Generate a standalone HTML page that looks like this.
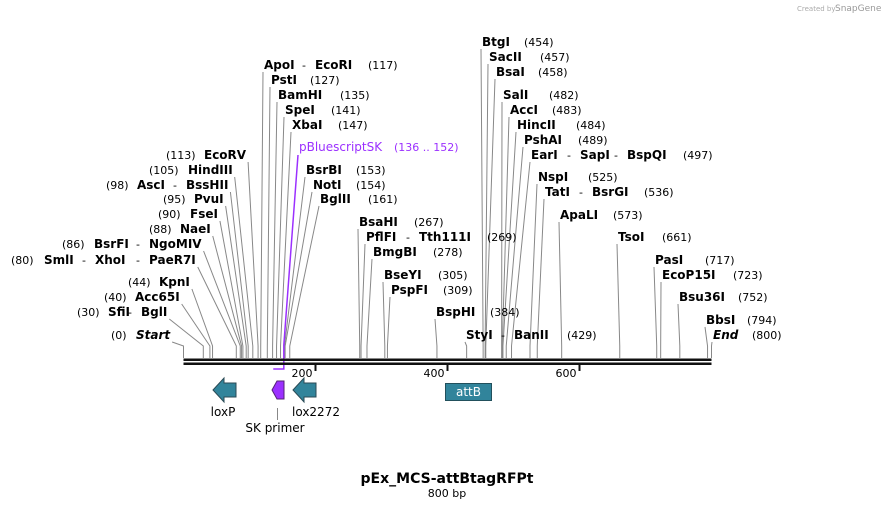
<!DOCTYPE html>
<html><head><meta charset="utf-8"><style>
body{margin:0;background:#fff}
svg{display:block}
text{font-family:"DejaVu Sans","Liberation Sans",sans-serif}
.n{font-weight:bold;font-size:12px;fill:#000}
.p{font-size:11px;fill:#000}
</style></head><body>
<svg width="895" height="509" viewBox="0 0 895 509" xmlns="http://www.w3.org/2000/svg">
<g id="lines"></g>
<g id="labels"></g>
<g id="axis"></g>
<g id="features"></g>
<text x="797" y="11" font-size="7" fill="#aaa">Created by</text>
<text x="835" y="11" font-size="9" fill="#999">SnapGene</text>
<text x="447" y="483" text-anchor="middle" font-size="14" font-weight="bold">pEx_MCS-attBtagRFPt</text>
<text x="447" y="497" text-anchor="middle" font-size="11">800 bp</text>
</svg>
<script>
const totalBp = 800;
const tickValues = [200, 400, 600];
const siteBps = [0,30,40,44,80,86,88,90,95,98,105,113,117,127,135,141,147,153,154,161,267,269,278,305,309,384,429,454,457,458,482,483,484,489,497,525,536,573,661,717,723,752,794,800];
const siteNames = ["Start","SfiI|BglI","Acc65I","KpnI","SmlI|XhoI|PaeR7I","BsrFI|NgoMIV","NaeI","FseI","PvuI","AscI|BssHII","HindIII","EcoRV","ApoI|EcoRI","PstI","BamHI","SpeI","XbaI","BsrBI","NotI","BglII","BsaHI","PflFI|Tth111I","BmgBI","BseYI","PspFI","BspHI","StyI|BanII","BtgI","SacII","BsaI","SalI","AccI","HincII","PshAI","EarI|SapI|BspQI","NspI","TatI|BsrGI","ApaLI","TsoI","PasI","EcoP15I","Bsu36I","BbsI","End"];
const siteLabelPos = [[111,335,136],[77,312,108,141],[104,297,135],[128,282,159],[11,260,44,95,149],[62,244,94,149],[149,229,180],[158,214,190],[163,199,194],[106,185,137,186],[149,170,188],[166,155,204],
[368,65,264,315],[310,80,271],[340,95,278],[331,110,285],[338,125,292],[356,170,306],[356,185,313],[368,199,320],[414,222,359],[487,237,366,419],[433,252,373],[438,275,384],[443,290,391],[490,312,436],[567,335,466,514],
[524,42,482],[540,57,489],[538,72,496],[549,95,503],[552,110,510],[576,125,517],[578,140,524],[683,155,531,580,627],[588,177,538],[644,192,545,592],[613,215,560],[662,237,618],[705,260,655],[733,275,662],[738,297,679],[747,320,706],[752,335,713]];
const leftCount = 12;
const yShift = 4;
const x0=183.5, x1=711.5;
function xScale(bp){return x0+(x1-x0)*bp/totalBp;}
const NS="http://www.w3.org/2000/svg";
function mk(tag,attrs,parent,txt){const e=document.createElementNS(NS,tag);for(const k in attrs)e.setAttribute(k,attrs[k]);if(txt!==undefined)e.textContent=txt;parent.appendChild(e);return e;}
const gL=document.getElementById('lines'),gT=document.getElementById('labels'),gA=document.getElementById('axis'),gF=document.getElementById('features');
function textW(s,bold){const t=mk('text',{class:bold?'n':'p',x:-999,y:-999},gT,s);const w=t.getComputedTextLength();t.remove();return w;}
siteBps.forEach((bp,i)=>{
  const pos=siteLabelPos[i], names=siteNames[i].split('|'), left=i<leftCount, italic=i===0||i===siteBps.length-1;
  const y=pos[1]+yShift;
  let anchorX;
  if(left){
    const num=mk('text',{class:'p',x:pos[0],y:y},gT,'('+bp+')');
    
    
    let lastEnd=0;
    names.forEach((nm,j)=>{
      const tx=pos[2+j];
      if(j>0){const d=mk('text',{class:'p',x:tx-13,y:y},gT,'-');}
      const t=mk('text',{class:'n',x:tx,y:y,'font-style':italic?'italic':'normal'},gT,nm);
      
      
      lastEnd=tx+textW(nm,true);
    });
    anchorX=lastEnd+2;
  } else {
    names.forEach((nm,j)=>{
      const tx=pos[2+j];
      if(j>0){const d=mk('text',{class:'p',x:tx-13,y:y},gT,'-');}
      const t=mk('text',{class:'n',x:tx,y:y,'font-style':italic?'italic':'normal'},gT,nm);
      
      
    });
    const num=mk('text',{class:'p',x:pos[0],y:y},gT,'('+bp+')');
    
    
    anchorX=pos[2]-1;
  }
  const sx=xScale(bp);
  const l=mk('polyline',{points:anchorX+','+(y+3)+' '+sx+',346 '+sx+',358',fill:'none',stroke:'#888','stroke-width':1},gL);
  
  
});
const pbs=mk('text',{x:299,y:151,'font-size':12,fill:'#9b30ff'},gT,'pBluescriptSK');


const pbn=mk('text',{x:394,y:151,'font-size':11,fill:'#9b30ff'},gT,'(136 .. 152)');


const pbl=mk('polyline',{points:'298,155 '+xScale(152)+',345 '+xScale(152)+',369 '+xScale(136)+',369',fill:'none',stroke:'#9b30ff','stroke-width':1.5},gL);


const b1=mk('rect',{x:x0,y:358.5,width:x1-x0,height:2.5,fill:'#111'},gA);


const b2=mk('rect',{x:x0,y:362.5,width:x1-x0,height:2.5,fill:'#111'},gA);


tickValues.forEach(v=>{
  const x=xScale(v);
  const t=mk('rect',{x:x-1,y:365,width:2,height:6,fill:'#111'},gA);
  
  
  const tl=mk('text',{x:x-3,y:377,'text-anchor':'end','font-size':11},gA,String(v));
  
  
});
function arrowLeft(xa,xb,y1,y2,color,name){
  const m=(y1+y2)/2, h=xa+11;
  const p=mk('polygon',{points:`${xa},${m} ${h},${y1} ${h},${y1+5} ${xb},${y1+5} ${xb},${y2-5} ${h},${y2-5} ${h},${y2}`,fill:color,stroke:'#2a4a55','stroke-width':1},gF);
  
  
}
arrowLeft(213,236,378,402,'#31849b','loxp-feature');
arrowLeft(293,316,378,402,'#31849b','lox2272-feature');
const sk=mk('polygon',{points:'272,390 277,381 284,381 284,399 277,399',fill:'#9b30ff',stroke:'#552277','stroke-width':1},gF);


const at=mk('rect',{x:445.5,y:383.5,width:46,height:17,fill:'#31849b',stroke:'#22505c','stroke-width':1},gF);


const att=mk('text',{x:468.5,y:396,'text-anchor':'middle','font-size':12,fill:'#fff'},gF,'attB');


const l1=mk('text',{x:223,y:416,'text-anchor':'middle','font-size':12},gF,'loxP');


const l2=mk('text',{x:316,y:416,'text-anchor':'middle','font-size':12},gF,'lox2272');


const skl=mk('line',{x1:277.5,y1:408,x2:277.5,y2:420,stroke:'#888'},gF);


const l3=mk('text',{x:275,y:432,'text-anchor':'middle','font-size':12},gF,'SK primer');


</script>
</body></html>
